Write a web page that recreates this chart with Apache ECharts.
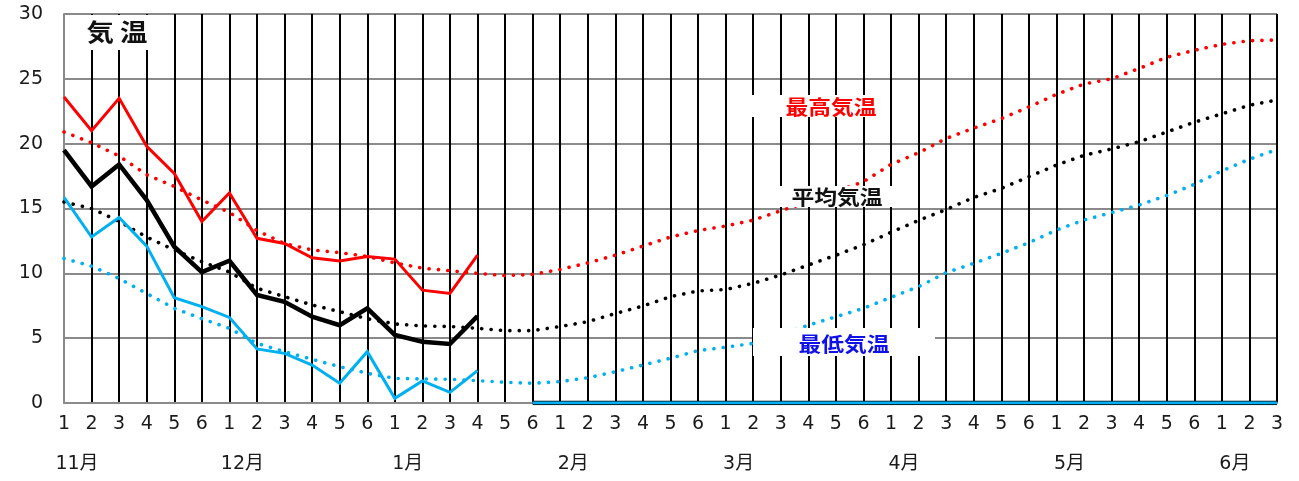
<!DOCTYPE html>
<html><head><meta charset="utf-8">
<script src="https://cdn.jsdelivr.net/npm/echarts@6/dist/echarts.min.js"></script>
<style>html,body{margin:0;padding:0;background:#fff}#c{width:1299px;height:481px}</style>
</head><body><div id="c"></div>
<script>
const dayLabels = ['1','2','3','4','5','6','1','2','3','4','5','6','1','2','3','4','5','6',
  '1','2','3','4','5','6','1','2','3','4','5','6','1','2','3','4','5','6',
  '1','2','3','4','5','6','1','2','3'];
const months = ['11月','12月','1月','2月','3月','4月','5月','6月'];

// observed (this season)
const obsHigh = [23.6,21.0,23.5,19.8,17.7,14.0,16.2,12.7,12.3,11.2,10.95,11.3,11.1,8.7,8.45,11.4,
  null,0,0,0,0,0,0,0,0,0,0,0,0,0,0,0,0,0,0,0,0,0,0,0,0,0,0,0,0];
const obsMean = [19.5,16.7,18.4,15.65,12.05,10.1,10.97,8.33,7.8,6.65,6.0,7.3,5.25,4.73,4.55,6.7,
  null,0,0,0,0,0,0,0,0,0,0,0,0,0,0,0,0,0,0,0,0,0,0,0,0,0,0,0,0];
const obsLow = [15.85,12.8,14.3,12.1,8.12,7.43,6.6,4.17,3.83,2.93,1.52,3.96,0.36,1.7,0.82,2.5,
  null,0,0,0,0,0,0,0,0,0,0,0,0,0,0,0,0,0,0,0,0,0,0,0,0,0,0,0,0];

// normals
const normHigh = [20.9,20.07,19.05,17.6,16.7,15.65,14.7,13.3,12.3,11.8,11.6,11.3,10.8,10.4,10.2,10.0,
  9.82,9.92,10.3,10.8,11.4,12.1,12.8,13.3,13.65,14.1,14.83,15.5,16.3,17.07,18.4,19.3,20.4,21.2,
  21.93,22.83,23.8,24.6,25.0,25.8,26.66,27.2,27.66,27.94,28.0];
const normMean = [15.5,15.0,14.0,12.8,11.8,10.9,10.1,8.85,8.2,7.56,7.04,6.5,6.1,5.94,5.9,5.76,
  5.58,5.58,5.9,6.27,6.9,7.48,8.2,8.64,8.75,9.23,9.87,10.64,11.4,12.2,13.16,14.08,14.92,15.85,
  16.55,17.45,18.35,19.1,19.59,20.15,20.9,21.65,22.3,22.96,23.37];
const normLow = [11.15,10.55,9.6,8.45,7.3,6.5,5.76,4.6,3.96,3.37,2.8,2.29,1.9,1.85,1.83,1.72,
  1.6,1.52,1.65,1.95,2.41,2.93,3.45,4.04,4.3,4.6,5.25,6.0,6.65,7.3,8.15,8.97,10.05,10.77,
  11.54,12.36,13.34,14.11,14.68,15.27,16.0,16.86,17.9,18.8,19.55];

const RED = '#ff0000', BLACK = '#000000', BLUE = '#00b0f0';
const FONT = '"DejaVu Sans","Noto Sans CJK JP",sans-serif';
const JP = '"Noto Sans CJK JP",sans-serif';

const monthAxisData = dayLabels.map((d, i) => (i % 6 === 0 ? months[i / 6] : ''));

function dotted(name, data, color) {
  return { name, type: 'line', data, symbol: 'none', z: 2,
    lineStyle: { color, width: 3.6, type: [0.1, 9.3], cap: 'round' } };
}
function solid(name, data, color, w) {
  return { name, type: 'line', data, symbol: 'none', z: 3, connectNulls: false,
    lineStyle: { color, width: w, join: 'miter' } };
}
function label(x, y, text, color, size) {
  return { type: 'text', z: 101, x, y, scaleX: 1.14,
    style: { text, fill: color, font: 'bold ' + size + 'px ' + JP, align: 'center', verticalAlign: 'middle' } };
}

const chart = echarts.init(document.getElementById('c'), null, { renderer: 'canvas' });
chart.setOption({
  animation: false,
  grid: { left: 64, right: 22, top: 14, bottom: 78, containLabel: false },
  xAxis: [{
    type: 'category', data: dayLabels, boundaryGap: false,
    axisLine: { show: true, lineStyle: { color: '#8a8a8a', width: 2 } },
    axisTick: { show: false },
    axisLabel: { interval: 0, margin: 12, color: '#1a1a1a', fontFamily: FONT, fontSize: 19 },
    splitLine: { show: true, interval: 0, lineStyle: { color: '#000', width: 2 } }
  }, {
    type: 'category', data: monthAxisData, boundaryGap: false, position: 'bottom', offset: 40,
    axisLine: { show: false }, axisTick: { show: false }, splitLine: { show: false },
    axisLabel: { interval: 0, margin: 12, color: '#1a1a1a', fontFamily: FONT, fontSize: 19,
      align: 'center', padding: [0, 0, 0, 26] }
  }],
  yAxis: {
    type: 'value', min: 0, max: 30, interval: 5,
    axisLine: { show: true, lineStyle: { color: '#8a8a8a', width: 2 } },
    axisTick: { show: false },
    axisLabel: { margin: 21, color: '#1a1a1a', fontFamily: FONT, fontSize: 19 },
    splitLine: { show: true, lineStyle: { color: '#8a8a8a', width: 2 } }
  },
  series: [
    dotted('平年最高', normHigh, RED),
    dotted('平年平均', normMean, BLACK),
    dotted('平年最低', normLow, BLUE),
    solid('最高気温', obsHigh, RED, 3),
    solid('平均気温', obsMean, BLACK, 4.5),
    solid('最低気温', obsLow, BLUE, 3)
  ],
  graphic: [
    { type: 'rect', z: 100, shape: { x: 65, y: 15, width: 95, height: 35 }, style: { fill: '#fff' } },
    label(117, 32, '気 温', '#111', 24),
    { type: 'rect', z: 100, shape: { x: 752, y: 95, width: 138, height: 22 }, style: { fill: '#fff' } },
    label(831, 107, '最高気温', RED, 20),
    { type: 'rect', z: 100, shape: { x: 778, y: 186, width: 114, height: 21 }, style: { fill: '#fff' } },
    label(837, 197, '平均気温', '#111', 20),
    { type: 'rect', z: 100, shape: { x: 753, y: 328, width: 182, height: 28 }, style: { fill: '#fff' } },
    label(844, 344, '最低気温', '#1010e8', 20)
  ]
});
</script></body></html>
